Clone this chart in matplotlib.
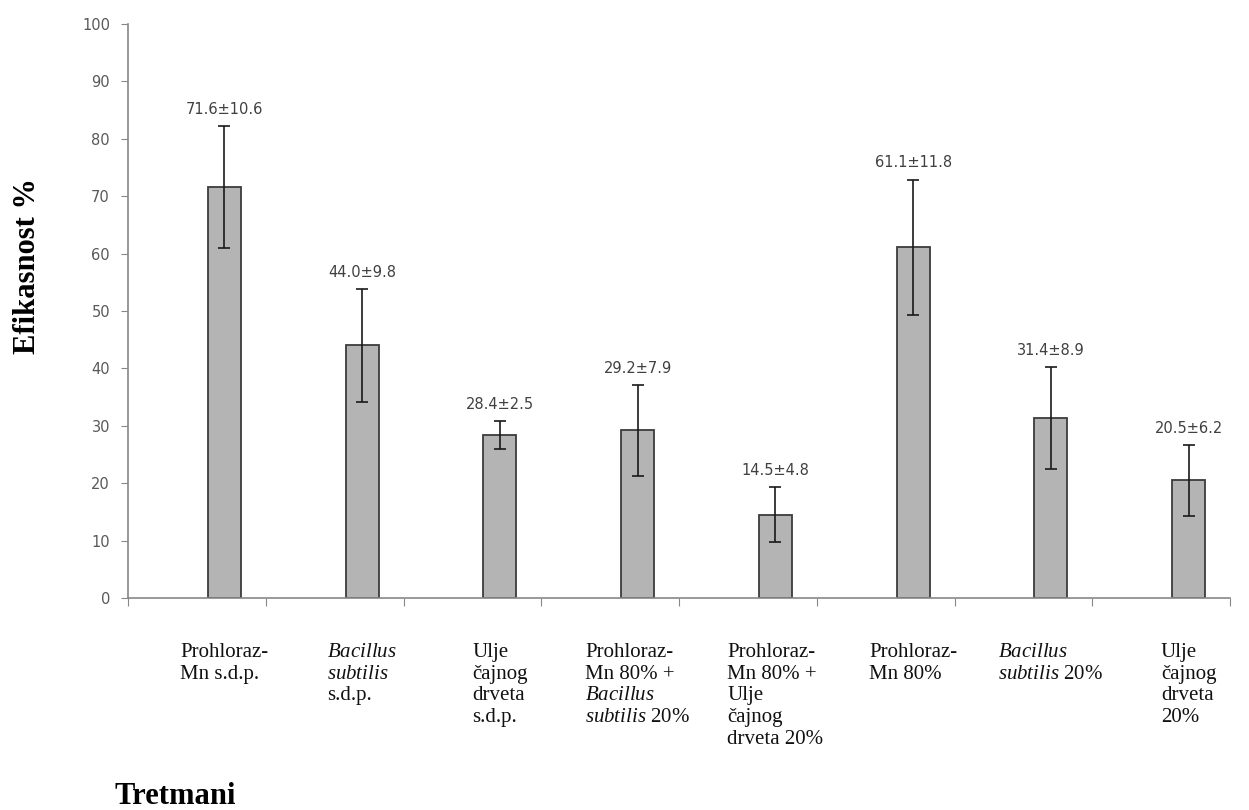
import numpy as np
import matplotlib
matplotlib.use("Agg")
import matplotlib.pyplot as plt
from matplotlib.transforms import blended_transform_factory

# podaci
categories = [
    "Prohloraz-\nMn s.d.p.",
    "$\\mathit{Bacillus}$\n$\\mathit{subtilis}$\ns.d.p.",
    "Ulje\nčajnog\ndrveta\ns.d.p.",
    "Prohloraz-\nMn 80% +\n$\\mathit{Bacillus}$\n$\\mathit{subtilis}$ 20%",
    "Prohloraz-\nMn 80% +\nUlje\nčajnog\ndrveta 20%",
    "Prohloraz-\nMn 80%",
    "$\\mathit{Bacillus}$\n$\\mathit{subtilis}$ 20%",
    "Ulje\nčajnog\ndrveta\n20%",
]
means = [71.6, 44.0, 28.4, 29.2, 14.5, 61.1, 31.4, 20.5]
errors = [10.6, 9.8, 2.5, 7.9, 4.8, 11.8, 8.9, 6.2]
yticks = [0, 10, 20, 30, 40, 50, 60, 70, 80, 90, 100]

plt.rcParams["mathtext.fontset"] = "custom"
plt.rcParams["mathtext.rm"] = "Liberation Serif"
plt.rcParams["mathtext.it"] = "Liberation Serif:italic"

fig = plt.figure(figsize=(12.49, 8.10), dpi=100)
ax = fig.add_axes([0.1025, 0.2617, 0.8823, 0.7086])

x = np.arange(len(means)) + 0.7
ax.bar(x, means, width=0.24, color="#b4b4b4", edgecolor="#3c3c3c", linewidth=1.3, zorder=2)
ax.errorbar(x, means, yerr=errors, fmt="none", ecolor="#1a1a1a", elinewidth=1.2,
            capsize=4, capthick=1.2, zorder=3)

for xi, m, e in zip(x, means, errors):
    ax.annotate(f"{m:.1f}±{e:.1f}", (xi, m + e), xytext=(0, 12), textcoords="offset points",
                ha="center", va="center", fontsize=10.5, color="#404040", family="DejaVu Sans")

ax.set_xlim(0, len(means))
ax.set_ylim(0, 100)
ax.set_yticks(yticks)
ax.set_xticks(np.arange(len(means) + 1))
ax.set_xticklabels([])
ax.tick_params(axis="y", direction="out", length=5, color="#888888", labelsize=10.5,
               labelcolor="#595959", pad=8)
ax.tick_params(axis="x", direction="out", length=6, color="#888888")
for s in ["top", "right"]:
    ax.spines[s].set_visible(False)
for s in ["left", "bottom"]:
    ax.spines[s].set_color("#888888")
    ax.spines[s].set_linewidth(1.2)

trans = blended_transform_factory(ax.transData, ax.transAxes)
for xi, lab in zip(x, categories):
    ax.text(xi, -0.078, lab, transform=trans, ha="center", va="top", multialignment="left",
            fontsize=15, family="Liberation Serif", linespacing=1.2, color="#111111")

fig.text(0.022, 0.672, "Efikasnost %", rotation=90, ha="center", va="center",
         fontsize=22, fontweight="bold", family="Liberation Serif")
fig.text(0.092, 0.008, "Tretmani", ha="left", va="baseline",
         fontsize=22, fontweight="bold", family="Liberation Serif")

fig.savefig("out.png", dpi=100)
